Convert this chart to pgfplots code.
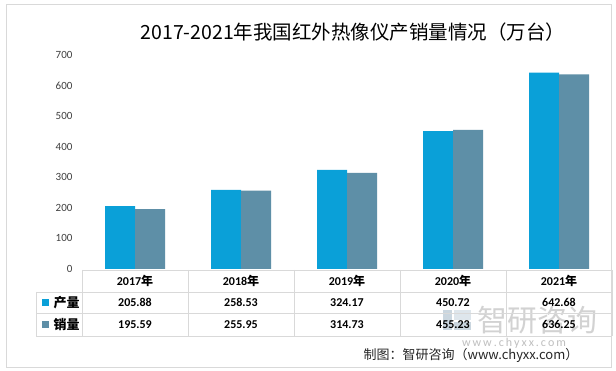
\documentclass[border=0pt]{standalone}
\usepackage{pgfplots}
\pgfplotsset{compat=1.18}
\usepackage{pgfplotstable}
\usepackage{fontspec}
\setmainfont{Carlito}
\newfontfamily\cjk{Noto Sans CJK SC}
\definecolor{prod}{HTML}{0AA0D8}
\definecolor{sale}{HTML}{5E8FA7}
\definecolor{grid}{HTML}{D9D9D9}
\definecolor{tick}{HTML}{404040}
\definecolor{wm1}{HTML}{A8BCCB}
\definecolor{wm2}{HTML}{C9D6E0}
\pgfplotstableread{
x year prod sale
0.5 2017 205.88 195.59
1.5 2018 258.53 255.95
2.5 2019 324.17 314.73
3.5 2020 450.72 455.23
4.5 2021 642.68 636.25
}\datatable
\begin{document}
\begin{tikzpicture}[x=1pt,y=1pt]
\useasboundingbox (0,0) rectangle (616,371);
\fill[white] (0,0) rectangle (616,371);
\draw[grid] (6.5,4) rectangle (611,367);
\node[font=\cjk\fontsize{19.5}{20}\selectfont, text=black] at (353,339) {2017-2021年我国红外热像仪产销量情况（万台）};
\begin{axis}[
  at={(82pt,102pt)}, anchor=south west,
  scale only axis, width=530pt, height=214pt,
  xmin=0, xmax=5, ymin=0, ymax=700,
  ybar=0pt, bar width=30pt,
  axis x line=none,
  axis y line*=left,
  y axis line style={draw=none},
  ytick={0,100,...,700},
  major tick length=0pt,
  yticklabel style={font=\fontsize{11}{12}\selectfont, text=tick, xshift=-6pt},
  /pgf/number format/assume math mode=true,
  clip=false,
]
\addplot[fill=prod, draw=none] table[x=x, y=prod] {\datatable};
\addplot[fill=sale, draw=none] table[x=x, y=sale] {\datatable};
\end{axis}
% watermark
\fill[wm1, opacity=0.6] (443,41) rectangle (452,61);
\fill[wm1, opacity=0.6] (454,41) rectangle (471,49);
\fill[wm2, opacity=0.6] (454,51) rectangle (471,61);
\node[font=\cjk\fontsize{30}{30}\selectfont, text=black!22, opacity=0.8] at (537,51) {智研咨询};
\node[font=\fontsize{12}{12}\selectfont, text=black!25] at (514,28) {w\,w\,w\,.\,c\,h\,y\,x\,x\,.\,c\,o\,m};
% table
\begin{scope}[grid]
\draw (82,101) -- (612,101);
\draw (36,79) -- (612,79);
\draw (36,58) -- (612,58);
\draw (36,35) -- (612,35);
\draw (36,79) -- (36,35);
\foreach \xx in {82,188,294,400,506,612} \draw (\xx,101) -- (\xx,35);
\end{scope}
\foreach \yr [count=\i from 0] in {2017,2018,2019,2020,2021}
  \node[font=\bfseries\fontsize{12}{12}\selectfont] at (135+106*\i,90) {\yr{\cjk\bfseries 年}};
\foreach \v [count=\i from 0] in {205.88,258.53,324.17,450.72,642.68}
  \node[font=\bfseries\fontsize{12}{12}\selectfont] at (135+106*\i,68.5) {\v};
\foreach \v [count=\i from 0] in {195.59,255.95,314.73,455.23,636.25}
  \node[font=\bfseries\fontsize{12}{12}\selectfont] at (135+106*\i,46.5) {\v};
\fill[prod] (42,65) rectangle (49,72);
\fill[sale] (42,43) rectangle (49,50);
\node[font=\cjk\bfseries\fontsize{13}{13}\selectfont, anchor=west] at (50,68.5) {产量};
\node[font=\cjk\bfseries\fontsize{13}{13}\selectfont, anchor=west] at (50,46.5) {销量};
\node[font=\cjk\fontsize{13}{13}\selectfont, text=black!85] at (471,16) {制图：智研咨询（www.chyxx.com）};
\end{tikzpicture}
\end{document}
